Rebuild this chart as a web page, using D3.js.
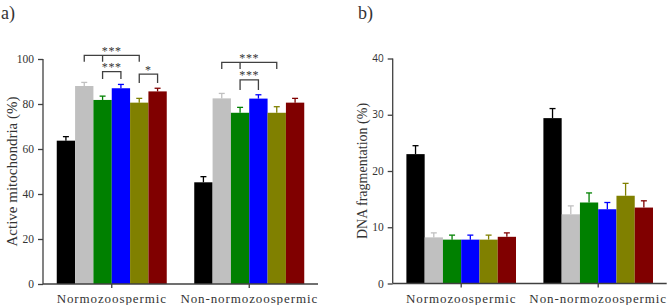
<!DOCTYPE html>
<html>
<head>
<meta charset="utf-8">
<script src="https://d3js.org/d3.v7.min.js"></script>
<style>
  body { margin:0; padding:0; background:#fff; }
  svg text { fill:#333; }
  .serif, .serif text { font-family:'Liberation Serif','Times New Roman',serif; }
  .axis path, .axis line { stroke:#404040; stroke-width:1.3px; }
</style>
</head>
<body>
<svg id="chart" width="669" height="305"></svg>
<script>
var groups = ["Normozoospermic", "Non-normozoospermic"];
var colors = ["#000000", "#c0c0c0", "#008000", "#0000ff", "#808000", "#800000"];

// panel a: active mitochondria (%)
var mitoMean = [[63.7, 88.0, 81.8, 87.0, 80.6, 85.6], [45.2, 82.5, 76.1, 82.4, 76.1, 80.6]];
var mitoErr  = [[1.8, 1.6, 1.7, 1.7, 1.9, 1.4], [2.5, 2.2, 2.4, 1.7, 2.7, 1.9]];
var mitoTicks = [0, 20, 40, 60, 80, 100];

// panel b: DNA fragmentation (%)
var dnaMean = [[23.0, 8.2, 7.8, 7.8, 7.8, 8.3], [29.4, 12.3, 14.4, 13.2, 15.6, 13.5]];
var dnaErr  = [[1.5, 0.8, 0.8, 0.8, 0.8, 0.7], [1.7, 1.5, 1.7, 1.2, 2.2, 1.2]];
var dnaTicks = [0, 10, 20, 30, 40];

// significance brackets (panel a): group, series indices, bar level, leg level
var sigGroup = [0, 0, 0, 1, 1];
var sigFrom  = [1, 2, 4, 1, 2];
var sigMid   = [2, null, null, 2, null];
var sigTo    = [4, 3, 5, 4, 3];
var sigTop   = [101.6, 94.4, 93.3, 98.5, 90.7];
var sigLeg   = [98.8, 91.1, 89.3, 95.6, 86.2];
var sigLabel = ["***", "***", "*", "***", "***"];

var svg = d3.select("#chart");

function panel(opt) {
  var g = svg.append("g");
  var x = d3.scaleBand().domain(groups).range([opt.x0, opt.x1]).paddingInner(0.2).paddingOuter(0.1);
  var xs = d3.scaleBand().domain(d3.range(colors.length)).range([0, x.bandwidth()]);
  var y = d3.scaleLinear().domain([0, opt.max]).range([opt.y0, opt.y1]);

  var rows = [];
  groups.forEach(function(gr, gi) {
    opt.mean[gi].forEach(function(v, si) {
      rows.push({g: gr, s: si, v: v, e: opt.err[gi][si]});
    });
  });

  // error bars (upper only)
  var eb = g.selectAll("g.err").data(rows).enter().append("g").attr("class", "err")
    .attr("stroke", function(d) { return colors[d.s]; }).attr("stroke-width", 1.3);
  eb.append("line")
    .attr("x1", function(d) { return x(d.g) + xs(d.s) + xs.bandwidth() / 2; })
    .attr("x2", function(d) { return x(d.g) + xs(d.s) + xs.bandwidth() / 2; })
    .attr("y1", function(d) { return y(d.v); })
    .attr("y2", function(d) { return y(d.v + d.e); });
  eb.append("line")
    .attr("x1", function(d) { return x(d.g) + xs(d.s) + xs.bandwidth() / 2 - 3; })
    .attr("x2", function(d) { return x(d.g) + xs(d.s) + xs.bandwidth() / 2 + 3; })
    .attr("y1", function(d) { return y(d.v + d.e); })
    .attr("y2", function(d) { return y(d.v + d.e); });

  g.selectAll("rect.bar").data(rows).enter().append("rect").attr("class", "bar")
    .attr("x", function(d) { return x(d.g) + xs(d.s); })
    .attr("width", xs.bandwidth())
    .attr("y", function(d) { return y(d.v); })
    .attr("height", function(d) { return y(0) - y(d.v); })
    .attr("fill", function(d) { return colors[d.s]; });

  var ya = g.append("g").attr("class", "axis serif").attr("transform", "translate(" + opt.x0 + ",0)")
    .call(d3.axisLeft(y).tickValues(opt.ticks).tickSize(5).tickPadding(4).tickSizeOuter(0));
  ya.attr("font-family", null);
  ya.selectAll("text").attr("font-size", 11.5);
  ya.select(".domain").attr("d", "M0," + y(opt.max) + "V" + y(0));

  var xa = g.append("g").attr("class", "axis serif").attr("transform", "translate(0," + opt.y0 + ")")
    .call(d3.axisBottom(x).tickSize(4).tickPadding(6).tickSizeOuter(0));
  xa.attr("font-family", null);
  xa.selectAll("text").attr("font-size", 13).attr("letter-spacing", "0.9px");
  xa.select(".domain").attr("d", "M" + opt.x0 + ",0H" + opt.x1);

  g.append("text").attr("class", "serif")
    .attr("transform", "translate(" + opt.titleX + "," + ((opt.y0 + opt.y1) / 2) + ") rotate(-90)")
    .attr("text-anchor", "middle").attr("font-size", opt.titleSize).text(opt.title);

  g.append("text").attr("class", "serif").attr("x", opt.tagX).attr("y", 19)
    .attr("font-size", 18).attr("fill", "#111").text(opt.tag);

  return {g: g, x: x, xs: xs, y: y, ya: ya};
}

var pa = panel({x0: 43, x1: 318, y0: 284, y1: 59, max: 100, ticks: mitoTicks,
  mean: mitoMean, err: mitoErr, title: "Active mitochondria (%)", titleX: 17, titleSize: 15,
  tag: "a)", tagX: 1});

var pb = panel({x0: 392.7, x1: 666.7, y0: 283.5, y1: 58.5, max: 40, ticks: dnaTicks,
  mean: dnaMean, err: dnaErr, title: "DNA fragmentation (%)", titleX: 367, titleSize: 14,
  tag: "b)", tagX: 358});

// upper ticks of panel b are drawn in a sans face in the original
pb.ya.selectAll(".tick text").filter(function(d) { return d >= 30; })
  .style("font-family", "'Open Sans', sans-serif").attr("font-size", 10).attr("fill", "#444");

// brackets
function cx(p, gi, si) { return p.x(groups[gi]) + p.xs(si) + p.xs.bandwidth() / 2; }
var br = pa.g.append("g").attr("stroke", "#404040").attr("stroke-width", 1.3).attr("fill", "none");
sigGroup.forEach(function(gi, i) {
  var xa = cx(pa, gi, sigFrom[i]), xb = cx(pa, gi, sigTo[i]);
  var yt = pa.y(sigTop[i]), yl = pa.y(sigLeg[i]);
  var d = "M" + xa + "," + yl + "V" + yt + "H" + xb + "V" + yl;
  if (sigMid[i] !== null) {
    var xm = cx(pa, gi, sigMid[i]);
    d += "M" + xm + "," + yt + "V" + yl;
  }
  br.append("path").attr("d", d);
  pa.g.append("text").attr("x", (xa + xb) / 2).attr("y", yt - 0.5)
    .attr("text-anchor", "middle").attr("font-size", 12).attr("letter-spacing", "0.6px")
    .style("font-family", "'Liberation Serif', serif").attr("fill", "#555").text(sigLabel[i]);
});
</script>
</body>
</html>
